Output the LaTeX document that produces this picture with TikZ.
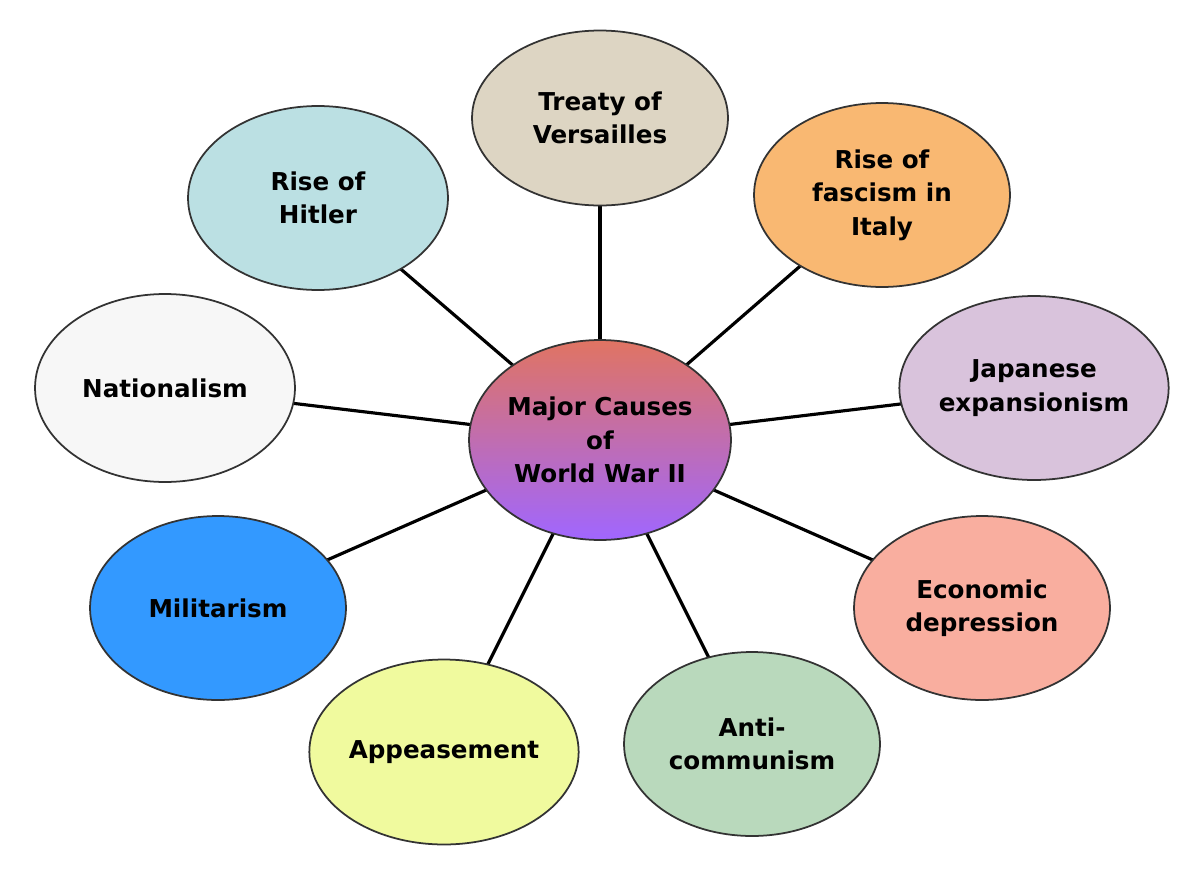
\documentclass[tikz,border=0pt]{standalone}
\usepackage{fontspec}
\setmainfont{DejaVu Sans}
\usetikzlibrary{shapes.geometric,backgrounds}
\definecolor{ctreaty}{HTML}{DDD5C3}
\definecolor{chitler}{HTML}{BBE0E3}
\definecolor{cfasc}{HTML}{F9B872}
\definecolor{cnat}{HTML}{F7F7F7}
\definecolor{cjap}{HTML}{D9C3DC}
\definecolor{cmil}{HTML}{3399FF}
\definecolor{ceco}{HTML}{F9AE9F}
\definecolor{capp}{HTML}{F0FA9E}
\definecolor{canti}{HTML}{B9D9BC}
\definecolor{ctop}{HTML}{E07462}
\definecolor{cbot}{HTML}{A066FF}
\tikzset{
 bub/.style={ellipse,draw=black!80,line width=1pt,inner sep=0pt,align=center,
   minimum width=5.12cm,minimum height=3.68cm,
   font=\bfseries\fontsize{14}{19}\selectfont},
 link/.style={line width=1.8pt,black}
}
\begin{document}
\begin{tikzpicture}[x=0.02cm,y=-0.02cm]
\useasboundingbox (0,0) rectangle (1200,889);
\node[bub,minimum height=3.5cm,fill=ctreaty] (tr) at (600,118) {Treaty of\\Versailles};
\node[bub,fill=chitler,minimum width=5.2cm] (hi) at (318,198) {Rise of\\Hitler};
\node[bub,fill=cfasc] (fa) at (882,195) {Rise of\\fascism in\\Italy};
\node[bub,fill=cnat,minimum width=5.2cm,minimum height=3.76cm] (na) at (165,388) {Nationalism};
\node[bub,fill=cjap] (ja) at (1034,388) {Japanese\\expansionism};
\node[bub,minimum width=5.12cm,minimum height=4cm,top color=ctop,bottom color=cbot] (c) at (600,440) {Major Causes\\of\\World War II};
\node[bub,fill=cmil] (mi) at (218,608) {Militarism};
\node[bub,fill=ceco] (ec) at (982,608) {Economic\\depression};
\node[bub,fill=capp,minimum width=4.88cm,minimum height=3.7cm] (ap) at (444,752) {Appeasement};
\node[bub,fill=canti] (an) at (752,744) {Anti-\\communism};
\begin{scope}[on background layer]
\foreach \n in {tr,hi,fa,na,ja,mi,ec,ap,an} \draw[link] (c.center) -- (\n.center);
\end{scope}
\end{tikzpicture}
\end{document}
